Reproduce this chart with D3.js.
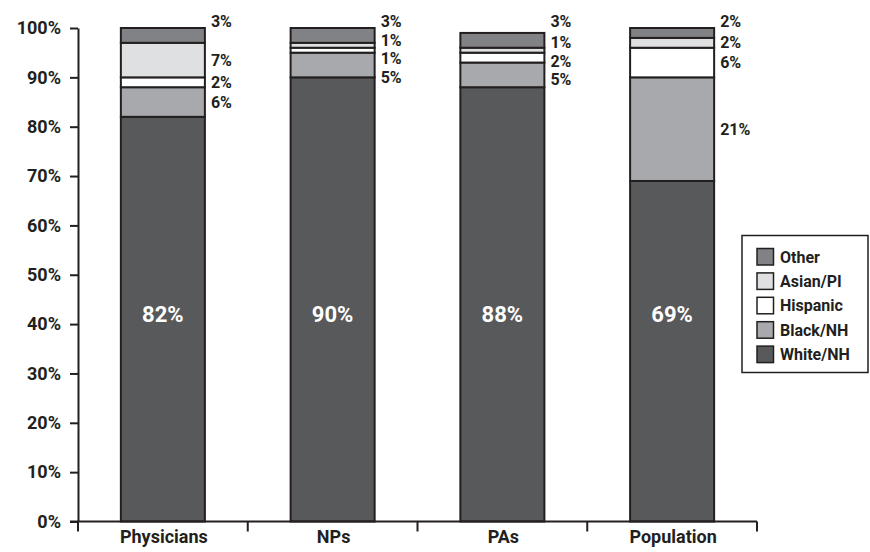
<!DOCTYPE html>
<html>
<head>
<meta charset="utf-8">
<script src="https://cdn.jsdelivr.net/npm/d3@7"></script>
<style>
  html, body { margin: 0; padding: 0; background: #ffffff; }
  svg { display: block; font-family: Roboto, "Open Sans", sans-serif; font-weight: 700; }
</style>
</head>
<body>
<svg id="chart" width="870" height="552"></svg>
<script>
// Workforce composition by race/ethnicity (percent of each group)
const categories = ["Physicians", "NPs", "PAs", "Population"];
const whiteNH  = [82, 90, 88, 69];
const blackNH  = [6, 5, 5, 21];
const hispanic = [2, 1, 2, 6];
const asianPI  = [7, 1, 1, 2];
const other    = [3, 3, 3, 2];
const yTicks   = [0, 10, 20, 30, 40, 50, 60, 70, 80, 90, 100];

// stacking order, bottom to top
const seriesKeys = ["White/NH", "Black/NH", "Hispanic", "Asian/PI", "Other"];
const seriesValues = [whiteNH, blackNH, hispanic, asianPI, other];
const colors = {
  "White/NH": "#58595b",
  "Black/NH": "#a7a9ac",
  "Hispanic": "#ffffff",
  "Asian/PI": "#dfe0e1",
  "Other":    "#808285"
};
const ink = "#231f20";

const rows = categories.map((c, i) => {
  const r = { category: c };
  seriesKeys.forEach((k, j) => { r[k] = seriesValues[j][i]; });
  return r;
});

const svg = d3.select("#chart");
const plot = { left: 78, right: 757, top: 28, bottom: 521.5 };

const x = d3.scaleBand()
  .domain(categories)
  .range([plot.left, plot.right])
  .paddingInner(0.505)
  .paddingOuter(0.2525);

const y = d3.scaleLinear().domain([0, 100]).range([plot.bottom, plot.top]);

const stacked = d3.stack().keys(seriesKeys)(rows);

// bars
const layers = svg.append("g").selectAll("g")
  .data(stacked)
  .join("g")
  .attr("fill", d => colors[d.key]);

layers.selectAll("rect")
  .data(d => d)
  .join("rect")
  .attr("x", d => x(d.data.category))
  .attr("width", x.bandwidth())
  .attr("y", d => y(d[1]))
  .attr("height", d => y(d[0]) - y(d[1]))
  .attr("stroke", ink)
  .attr("stroke-width", 2);

// y axis
const yAxis = d3.axisLeft(y)
  .tickValues(yTicks)
  .tickFormat(d => d + "%")
  .tickSize(8)
  .tickSizeOuter(0)
  .tickPadding(9);

const gy = svg.append("g")
  .attr("transform", `translate(${plot.left},0)`)
  .call(yAxis);
gy.select(".domain").attr("stroke", ink).attr("stroke-width", 2);
gy.selectAll(".tick line").attr("stroke", ink).attr("stroke-width", 2);
gy.selectAll(".tick text")
  .attr("fill", ink)
  .style("font-size", "18px")
  .style("font-family", "Roboto, sans-serif")
  .style("font-weight", 700);

// x axis: baseline with ticks at category boundaries
const boundaries = d3.range(categories.length + 1).map(i => plot.left + i * x.step());
const gx = svg.append("g");
gx.append("line")
  .attr("x1", plot.left - 8).attr("x2", plot.right)
  .attr("y1", plot.bottom).attr("y2", plot.bottom)
  .attr("stroke", ink).attr("stroke-width", 2);
gx.selectAll("line.bt")
  .data(boundaries)
  .join("line")
  .attr("class", "bt")
  .attr("x1", d => d).attr("x2", d => d)
  .attr("y1", plot.bottom).attr("y2", plot.bottom + 10)
  .attr("stroke", ink).attr("stroke-width", 2);
gx.selectAll("text")
  .data(categories)
  .join("text")
  .attr("x", d => x(d) + x.bandwidth() / 2 + 1)
  .attr("y", plot.bottom + 21)
  .attr("text-anchor", "middle")
  .attr("fill", ink)
  .style("font-size", "18px")
  .text(d => d);

// large value label inside the White/NH segment
const innerLabelLevel = 42;
svg.append("g").selectAll("text")
  .data(rows)
  .join("text")
  .attr("x", d => x(d.category) + x.bandwidth() / 2)
  .attr("y", y(innerLabelLevel))
  .attr("dy", "0.35em")
  .attr("text-anchor", "middle")
  .attr("fill", "#ffffff")
  .style("font-size", "22px")
  .text(d => d["White/NH"] + "%");

// side labels for the smaller segments, spread apart so they do not overlap
const sideFontSize = 16;
const minGap = 18.9;
const sideLabels = [];
categories.forEach((c, i) => {
  const items = [];
  // top segment label sits just above the chart top
  const topKey = seriesKeys[seriesKeys.length - 1];
  items.push({ category: c, value: rows[i][topKey], y: y(100) - 7, fixed: true });
  for (let j = seriesKeys.length - 2; j >= 1; j--) {
    const seg = stacked[j][i];
    items.push({ category: c, value: rows[i][seriesKeys[j]], y: (y(seg[0]) + y(seg[1])) / 2, fixed: false });
  }
  for (let iter = 0; iter < 300; iter++) {
    for (let k = 0; k < items.length - 1; k++) {
      const a = items[k], b = items[k + 1];
      const gap = b.y - a.y;
      if (gap < minGap) {
        const push = minGap - gap;
        if (a.fixed) { b.y += push; }
        else { a.y -= push / 2; b.y += push / 2; }
      }
    }
  }
  sideLabels.push(...items);
});

svg.append("g").selectAll("text")
  .data(sideLabels)
  .join("text")
  .attr("x", d => x(d.category) + x.bandwidth() + 6)
  .attr("y", d => d.y)
  .attr("dy", "0.35em")
  .attr("fill", ink)
  .style("font-size", sideFontSize + "px")
  .text(d => d.value + "%");

// legend, top-to-bottom in the same order as the stack
const legendKeys = seriesKeys.slice().reverse();
const legend = svg.append("g").attr("transform", "translate(742,235.5)");
legend.append("rect")
  .attr("width", 126).attr("height", 137)
  .attr("fill", "#ffffff")
  .attr("stroke", ink).attr("stroke-width", 1.5);
const item = legend.selectAll("g.item")
  .data(legendKeys)
  .join("g")
  .attr("class", "item")
  .attr("transform", (d, i) => `translate(15,${13 + i * 24.4})`);
item.append("rect")
  .attr("width", 16.5).attr("height", 16.5)
  .attr("fill", d => colors[d])
  .attr("stroke", ink).attr("stroke-width", 1.5);
item.append("text")
  .attr("x", 23).attr("y", 8.5)
  .attr("dy", "0.35em")
  .attr("fill", ink)
  .style("font-size", "16px")
  .text(d => d);
</script>
</body>
</html>
